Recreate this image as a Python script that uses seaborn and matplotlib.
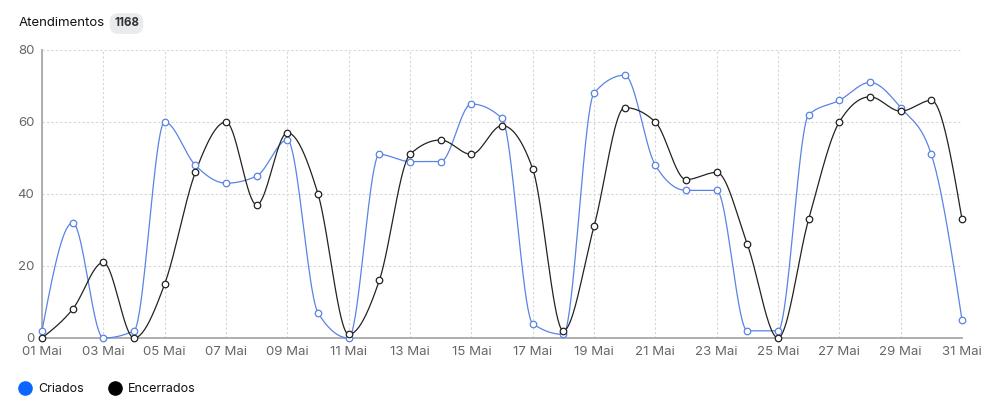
import numpy as np
import pandas as pd
import matplotlib
matplotlib.use("Agg")
import matplotlib.pyplot as plt
from matplotlib.lines import Line2D
import seaborn as sns

days = list(range(1, 32))
tick_days = list(range(1, 32, 2))
tick_labels = [f"{d:02d} Mai" for d in tick_days]
criados = [2, 32, 0, 2, 60, 48, 43, 45, 55, 7, 0, 51, 49, 49, 65, 61, 4, 1, 68, 73,
           48, 41, 41, 2, 2, 62, 66, 71, 64, 51, 5]
encerrados = [0, 8, 21, 0, 15, 46, 60, 37, 57, 40, 1, 16, 51, 55, 51, 59, 47, 2, 31, 64,
              60, 44, 46, 26, 0, 33, 60, 67, 63, 66, 33]
title = "Atendimentos"
total = "1168"
series_names = ["Criados", "Encerrados"]
line_colors = ["#5a83e6", "#222222"]
legend_colors = ["#0a66ff", "#000000"]


def monotone_x(x, y, n=40):
    x = np.asarray(x, float); y = np.asarray(y, float)
    m = len(x)
    h = np.diff(x); s = np.diff(y) / h
    t = np.zeros(m)
    for i in range(1, m - 1):
        h0, h1, s0, s1 = h[i - 1], h[i], s[i - 1], s[i]
        p = (s0 * h1 + s1 * h0) / (h0 + h1)
        t[i] = (np.sign(s0) + np.sign(s1)) * min(abs(s0), abs(s1), 0.5 * abs(p))
    t[0] = (3 * s[0] - t[1]) / 2
    t[-1] = (3 * s[-1] - t[-2]) / 2
    xs, ys = [], []
    for i in range(m - 1):
        u = np.linspace(0, 1, n, endpoint=(i == m - 2))
        dx = h[i]
        h00 = 2 * u**3 - 3 * u**2 + 1
        h10 = u**3 - 2 * u**2 + u
        h01 = -2 * u**3 + 3 * u**2
        h11 = u**3 - u**2
        xs.append(x[i] + u * dx)
        ys.append(h00 * y[i] + h10 * dx * t[i] + h01 * y[i + 1] + h11 * dx * t[i + 1])
    return np.concatenate(xs), np.concatenate(ys)


sns.set_style("white")
plt.rcParams["font.family"] = ["Inter", "DejaVu Sans"]

fig = plt.figure(figsize=(9.9, 4.07), dpi=100)
ax = fig.add_axes([42 / 990, 1 - 338 / 407, 920 / 990, 288 / 407])

df = pd.DataFrame({"day": days * 2,
                   "value": criados + encerrados,
                   "serie": [series_names[0]] * 31 + [series_names[1]] * 31})

for name, col in zip(series_names, line_colors):
    sub = df[df["serie"] == name]
    xs, ys = monotone_x(sub["day"], sub["value"])
    ax.plot(xs, ys, color=col, lw=0.9, zorder=3)
    sns.scatterplot(x="day", y="value", data=sub, ax=ax, marker="o", s=22,
                    facecolor="white", edgecolor=col, linewidth=0.9, zorder=4,
                    legend=False)

ax.set_xlim(1, 31)
ax.set_ylim(0, 80)
ax.set_xticks(tick_days)
ax.set_xticklabels(tick_labels)
ax.set_yticks([0, 20, 40, 60, 80])
ax.set_xlabel("")
ax.set_ylabel("")
ax.grid(True, color="#d6d6d6", linestyle=(0, (2, 2)), linewidth=0.8)
ax.set_axisbelow(True)
for sp in ["top", "right"]:
    ax.spines[sp].set_visible(False)
for sp in ["left", "bottom"]:
    ax.spines[sp].set_color("#a8a8a8")
    ax.spines[sp].set_linewidth(1.3)
ax.tick_params(axis="both", colors="#a8a8a8", labelcolor="#666666", labelsize=9.5,
               length=3.5, width=1, pad=2)
for spine in ax.spines.values():
    spine.set_clip_on(False)
for coll in ax.collections:
    coll.set_clip_on(False)
for ln in ax.lines:
    ln.set_clip_on(False)

fig.text(19 / 990, 1 - 23.5 / 407, title, fontsize=9.5, color="#111111",
         va="center", ha="left")
fig.text(114 / 990, 1 - 23.5 / 407, total, fontsize=8.3, color="#333333",
         fontweight="bold", va="center", ha="left",
         bbox=dict(boxstyle="round,pad=0.38,rounding_size=0.75", fc="#e9ebee", ec="none"))

handles = [Line2D([0], [0], marker="o", linestyle="", markersize=9.5,
                  markerfacecolor=c, markeredgecolor=c) for c in legend_colors]
fig.legend(handles, series_names, loc="center left", bbox_to_anchor=(6 / 990, 1 - 389.5 / 407),
           ncol=2, frameon=False, fontsize=9, handletextpad=0.45, columnspacing=1.9,
           handlelength=1.2, labelcolor="#111111")

fig.savefig("out.png", dpi=100)
